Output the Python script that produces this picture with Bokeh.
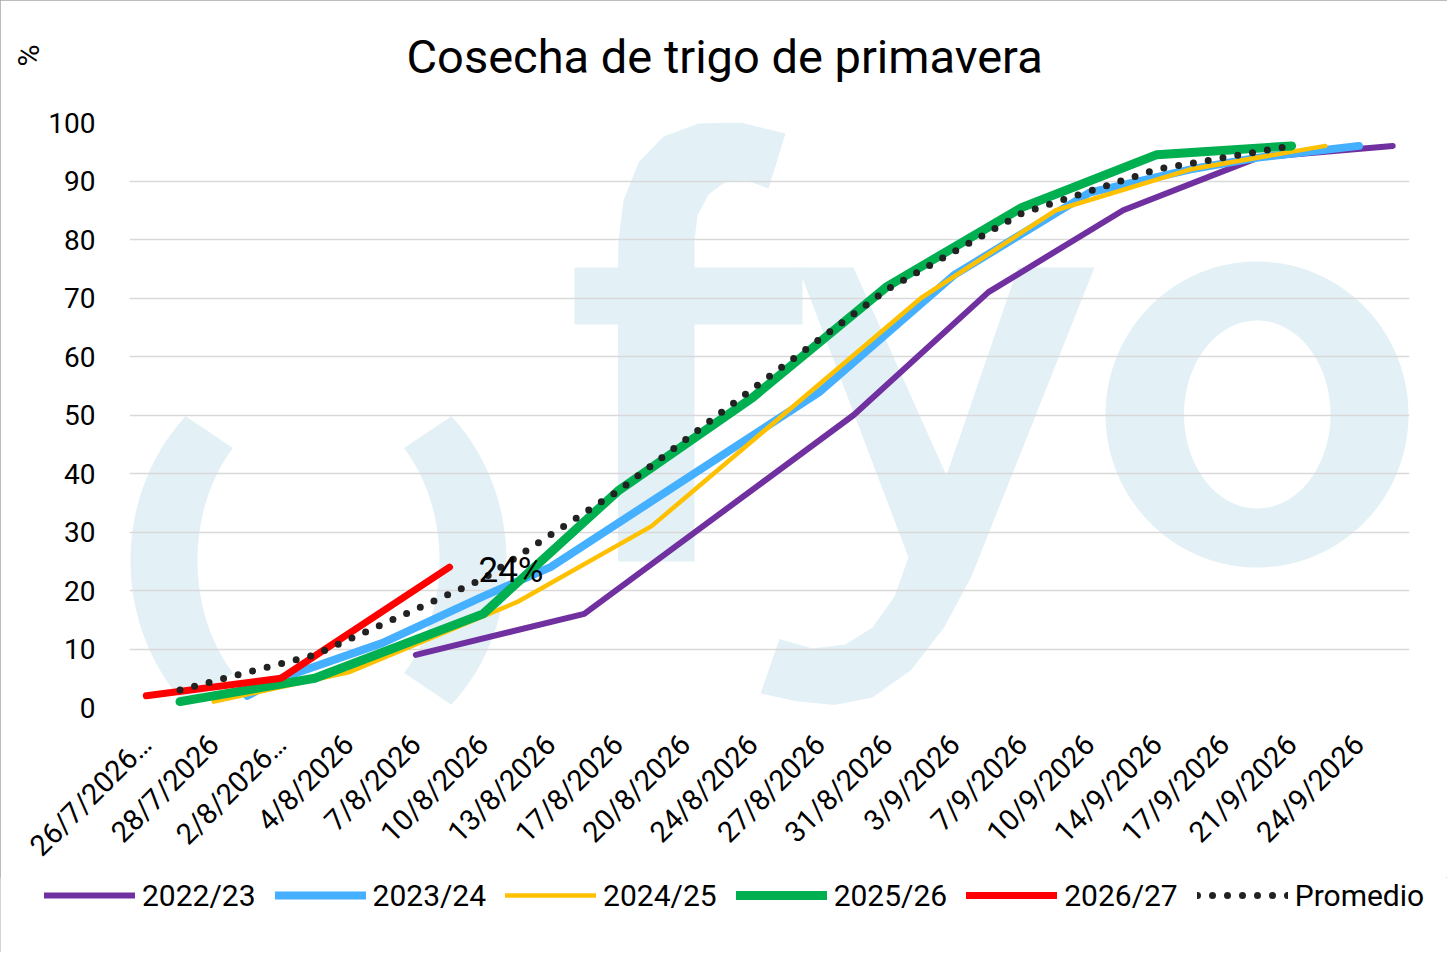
import math
import numpy as np
from bokeh.plotting import figure
from bokeh.layouts import column
from bokeh.models import FixedTicker, Legend, LegendItem, Range1d, Title, Plot
from bokeh.core.properties import value
from bokeh.embed import file_html
from bokeh.resources import INLINE

# ---------------- data ----------------
title_text = "Cosecha de trigo de primavera"
y_unit = "%"
n_categories = 38
tick_positions = list(range(0, 38, 2))
tick_labels = ["26/7/2026…", "28/7/2026", "2/8/2026…", "4/8/2026", "7/8/2026",
               "10/8/2026", "13/8/2026", "17/8/2026", "20/8/2026", "24/8/2026",
               "27/8/2026", "31/8/2026", "3/9/2026", "7/9/2026", "10/9/2026",
               "14/9/2026", "17/9/2026", "21/9/2026", "24/9/2026"]

series_names = ["2022/23", "2023/24", "2024/25", "2025/26", "2026/27", "Promedio"]

x_2022 = [8, 13, 21, 25, 29, 33, 37]
v_2022 = [9, 16, 50, 71, 85, 94, 96]

x_2023 = [3, 4, 7, 10, 12, 20, 24, 28, 31, 33, 36]
v_2023 = [2, 5, 11, 19, 24, 54, 74, 88, 92, 94, 96]

x_2024 = [2, 6, 11, 15, 23, 27, 31, 35]
v_2024 = [1, 6, 18, 31, 70, 85, 92, 96]

x_2025 = [1, 5, 10, 14, 18, 22, 26, 30, 34]
v_2025 = [1, 5, 16, 37, 53, 72, 85.5, 94.5, 96]

x_2026 = [0, 4, 9]
v_2026 = [2, 5, 24]

x_prom = [1, 5, 10, 14, 18, 22, 26, 30, 34]
v_prom = [3, 9, 22, 37, 54.5, 71.5, 84.5, 92, 96]

# ---------------- styles ----------------
FONT = "Roboto"
colors = ["#7030A0", "#45B0FF", "#FFC000", "#00B050", "#FF0000", "#222222"]
widths = [6, 8, 4.5, 9, 7, 7]
WM = "#E3F1F6"
BORDER_L, BORDER_R = 129, 38
HAS_FRAME_ALIGN = "frame_align" in Plot.properties()

FRAME_W, FRAME_H = 1280, 585
TOTAL_W = FRAME_W + BORDER_L + BORDER_R
p = figure(frame_width=FRAME_W, frame_height=FRAME_H,
           min_border_left=BORDER_L, min_border_right=BORDER_R,
           min_border_top=122, min_border_bottom=150,
           x_range=Range1d(-0.5, n_categories - 0.5), y_range=Range1d(0, 100),
           output_backend="svg", toolbar_location=None)
p.background_fill_color = "white"
p.border_fill_color = "white"
p.outline_line_color = None

# ---------------- watermark (decoration, reference pixel geometry) -------------
FL, FR, FT, FB = 129.0, 1409.0, 122.0, 707.0


def dx(px):
    return list(-0.5 + (np.asarray(px, dtype=float) - FL) / (FR - FL) * n_categories)


def dy(py):
    return list((FB - np.asarray(py, dtype=float)) / (FB - FT) * 100.0)


def arc_band(cx, cy, ao, bo, ai, bi, t0, t1):
    t = np.radians(np.linspace(t0, t1, 48))
    xo = cx + ao * np.cos(t)
    yo = cy - bo * np.sin(t)
    xi = cx + ai * np.cos(t[::-1])
    yi = cy - bi * np.sin(t[::-1])
    return np.concatenate([xo, xi]), np.concatenate([yo, yi])


lpx, lpy = arc_band(318, 560, 188, 204, 121, 159, 135, 225)
rpx, rpy = arc_band(318, 560, 188, 204, 121, 159, -45, 45)

f_pts = [(617.5, 561), (617.5, 324), (574, 324), (574, 267), (617.5, 267),
         (618, 240), (623, 200), (638, 162), (663, 136), (698, 123), (740, 122),
         (785, 133), (768, 188), (746, 180), (724, 182), (708, 194), (697, 215),
         (694, 240), (694, 267), (802, 267), (802, 324), (694, 324), (694, 561)]
y_pts = [(798, 267), (853, 267), (946, 475), (1017.5, 267), (1094, 267),
         (971, 576), (943.6, 627), (910.7, 669.6), (872, 697), (834, 704.6),
         (795.6, 700.8), (760, 693), (779, 638.6), (812, 648), (845, 644),
         (872, 627), (894, 596), (908, 557)]
fx, fy = zip(*f_pts)
yx, yy = zip(*y_pts)
t = np.radians(np.linspace(0, 360, 120))
o_out_x = 1256.5 + 151.5 * np.cos(t)
o_out_y = 414 - 153 * np.sin(t)
o_in_x = 1256.75 + 73.25 * np.cos(t)
o_in_y = 414 - 94 * np.sin(t)

wm_xs = [[[dx(fx)]], [[dx(yx)]], [[dx(lpx)]], [[dx(rpx)]], [[dx(o_out_x), dx(o_in_x)]]]
wm_ys = [[[dy(fy)]], [[dy(yy)]], [[dy(lpy)]], [[dy(rpy)]], [[dy(o_out_y), dy(o_in_y)]]]
p.multi_polygons(xs=wm_xs, ys=wm_ys, fill_color=WM, line_color=None, level="image")

# ---------------- axes / grid ----------------
p.xgrid.visible = False
yt = FixedTicker(ticks=list(range(0, 101, 10)))
p.yaxis.ticker = yt
p.ygrid.ticker = yt
p.ygrid.grid_line_color = "#d9d9d9"
p.ygrid.grid_line_width = 1.6

p.yaxis.axis_line_color = None
p.yaxis.major_tick_line_color = None
p.yaxis.minor_tick_line_color = None
p.yaxis.major_label_standoff = 28
p.yaxis.major_label_text_font = FONT
p.yaxis.major_label_text_font_size = "28px"
p.yaxis.major_label_text_color = "#000000"

p.xaxis.ticker = FixedTicker(ticks=tick_positions)
p.xaxis.major_label_overrides = {k: lab for k, lab in zip(tick_positions, tick_labels)}
p.xaxis.major_label_orientation = math.pi / 4
p.xaxis.axis_line_color = None
p.xaxis.major_tick_line_color = None
p.xaxis.minor_tick_line_color = None
p.xaxis.major_label_standoff = 26
p.xaxis.major_label_text_font = FONT
p.xaxis.major_label_text_font_size = "29px"
p.xaxis.major_label_text_color = "#000000"

# ---------------- series ----------------
xs = [x_2022, x_2023, x_2024, x_2025, x_2026, x_prom]
vs = [v_2022, v_2023, v_2024, v_2025, v_2026, v_prom]


def style(i):
    kw = dict(line_color=colors[i], line_width=widths[i], line_join="round", line_cap="round")
    if series_names[i] == "Promedio":
        kw["line_dash"] = "0 15"
    return kw


for i, (xx, vv) in enumerate(zip(xs, vs)):
    p.line(xx, vv, **style(i))

# data label on last point of current season
p.text(x=[x_2026[-1]], y=[v_2026[-1]], text=[f"{v_2026[-1]}%"],
       x_offset=29, y_offset=3, text_baseline="middle", text_align="left",
       text_font=value(FONT), text_font_size="35px", text_color="#000000")

# ---------------- title and unit ----------------
p.title.text = title_text
p.title.align = "left"
p.title.offset = 277
p.title.vertical_align = "bottom"
p.title.standoff = 0
p.title.text_font = FONT
p.title.text_font_size = "47px"
p.title.text_font_style = "normal"
p.title.text_color = "#000000"
# spacer between the frame and the title
p.add_layout(Title(text=" ", standoff=0, text_font=FONT, text_font_size="31px"), "above")

p.add_layout(Title(text=y_unit, align="right", offset=-78, standoff=0, text_font=FONT,
                   text_font_size="30px", text_font_style="normal",
                   text_color="#000000"), "left")

# ---------------- legend strip (own small figure, same series, lines out of view) ---------
LEG_H = 75
pl = figure(width=TOTAL_W, height=LEG_H, min_border=0,
            x_range=Range1d(1000, 1001), y_range=Range1d(1000, 1001),
            x_axis_type=None, y_axis_type=None,
            output_backend="svg", toolbar_location=None)
pl.outline_line_color = None
pl.background_fill_color = "white"
pl.border_fill_color = "white"
leg_renderers = [pl.line(xx, vv, **style(i)) for i, (xx, vv) in enumerate(zip(xs, vs))]

if HAS_FRAME_ALIGN:
    p.frame_align = False
    pl.frame_align = False
    leg_kw = dict(location=(44, LEG_H - 36), glyph_width=91, label_standoff=7, spacing=19)
else:
    leg_kw = dict(location=(70, LEG_H - 36), glyph_width=60, label_standoff=6, spacing=10)

legend = Legend(items=[LegendItem(label=n, renderers=[r]) for n, r in zip(series_names, leg_renderers)],
                orientation="horizontal", glyph_height=36, label_height=36,
                padding=0, margin=0, border_line_color=None, background_fill_alpha=0,
                label_text_font=FONT, label_text_font_size="30px", label_text_color="#000000",
                **leg_kw)
pl.add_layout(legend)

layout = column(p, pl, spacing=0)
layout.styles = {"outline": "1.5px solid #a6a6a6", "outline-offset": "-1.5px"}

open("out.html", "w").write(file_html(layout, INLINE))
